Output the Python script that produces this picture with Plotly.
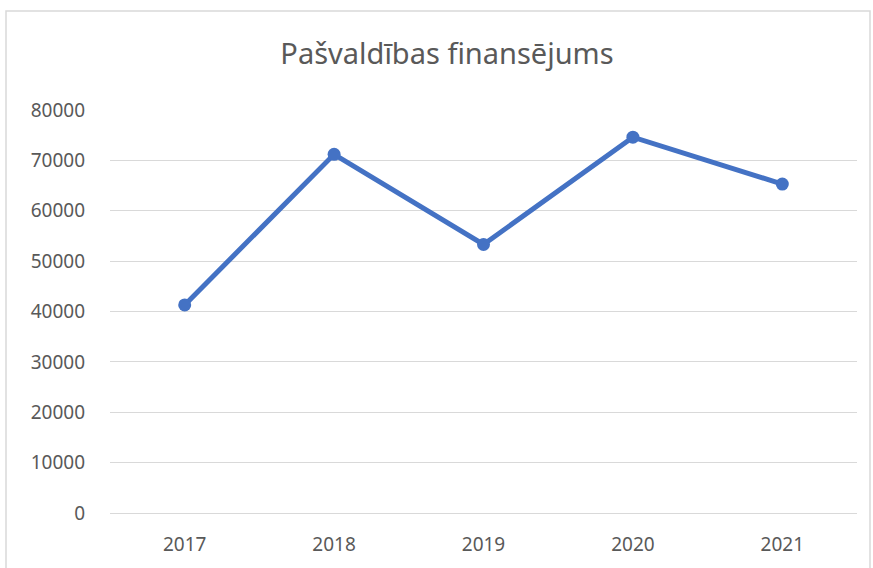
import plotly.graph_objects as go

years = ["2017", "2018", "2019", "2020", "2021"]
values = [41300, 71200, 53300, 74600, 65300]
title_text = "Pašvaldības finansējums"

W, H = 873, 568
L, R, T, B = 110, 16, 110, 55
pw, ph = W - L - R, H - T - B

def px_x(px):
    return (px - L) / pw

def px_y(py):
    return (H - B - py) / ph

fig = go.Figure()
fig.add_trace(go.Scatter(
    x=years, y=values, mode="lines+markers",
    line=dict(color="#4472C4", width=5),
    marker=dict(color="#4472C4", size=13),
    hoverinfo="x+y",
))

fig.update_layout(
    width=W, height=H,
    margin=dict(l=L, r=R, t=T, b=B),
    paper_bgcolor="white", plot_bgcolor="white",
    font=dict(family="Noto Sans", color="#595959", size=19),
    title=dict(text=title_text, x=px_x(447), xref="paper", xanchor="center",
               y=1 - 54 / H, yref="container", yanchor="middle",
               font=dict(size=29, color="#595959", family="Noto Sans")),
    showlegend=False,
    shapes=[dict(type="rect", xref="paper", yref="paper",
                 x0=px_x(6), x1=px_x(870), y0=px_y(11), y1=px_y(600),
                 line=dict(color="#d9d9d9", width=1.5), layer="below")],
)
fig.update_xaxes(type="category", showgrid=False, showline=False, zeroline=False,
                 ticks="", ticklabelstandoff=18, range=[-0.5, 4.5],
                 tickfont=dict(size=19, color="#595959"))
fig.update_yaxes(range=[0, 80000], dtick=10000, showgrid=True, gridcolor="#d9d9d9",
                 gridwidth=1, zeroline=True, zerolinecolor="#d9d9d9", zerolinewidth=1,
                 showline=False, ticks="", ticklabelstandoff=24,
                 tickformat="d", tickfont=dict(size=19, color="#595959"))

fig.write_html("out.html", config={"displayModeBar": False},
               post_script="document.body.style.margin='0';document.body.style.padding='0';")
